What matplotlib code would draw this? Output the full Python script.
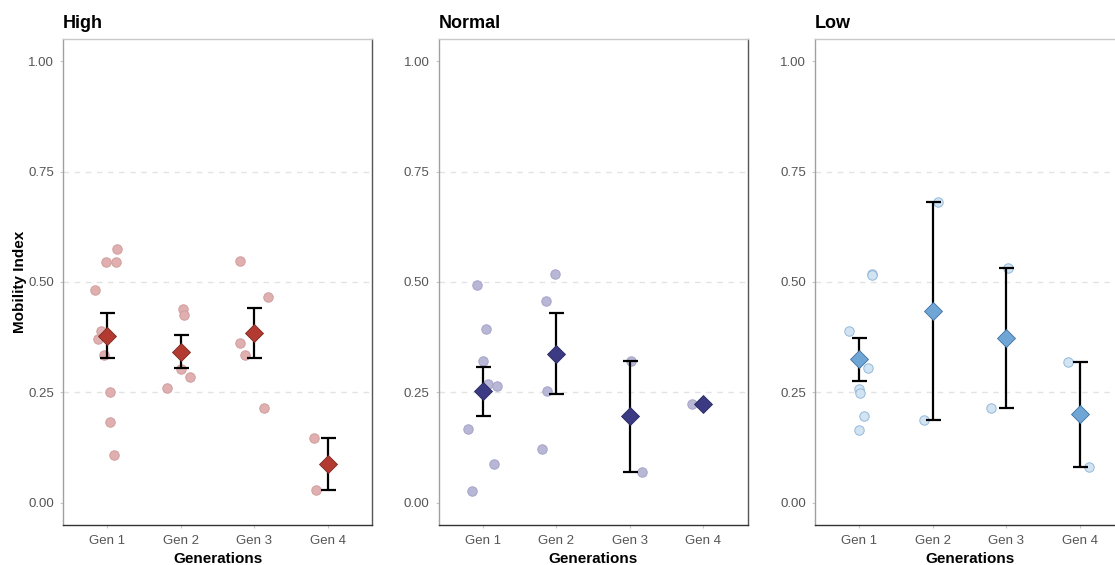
import matplotlib
matplotlib.use("Agg")
import matplotlib.pyplot as plt
import numpy as np

plt.rcParams['font.family'] = ['Liberation Sans', 'DejaVu Sans']

generations = ["Gen 1", "Gen 2", "Gen 3", "Gen 4"]
panels = ["High", "Normal", "Low"]

# Mobility index of each individual
high_vals = [
    [0.575, 0.546, 0.546, 0.482, 0.388, 0.371, 0.335, 0.250, 0.184, 0.108],
    [0.439, 0.425, 0.302, 0.285, 0.259],
    [0.547, 0.467, 0.361, 0.334, 0.214],
    [0.146, 0.029],
]
normal_vals = [
    [0.493, 0.393, 0.321, 0.269, 0.265, 0.167, 0.087, 0.026],
    [0.517, 0.458, 0.253, 0.123],
    [0.322, 0.070],
    [0.225],
]
low_vals = [
    [0.518, 0.515, 0.390, 0.306, 0.257, 0.248, 0.197, 0.166],
    [0.681, 0.187],
    [0.531, 0.214],
    [0.320, 0.081],
]
# horizontal jitter (category units)
high_jit = [
    [0.14, -0.01, 0.115, -0.16, -0.09, -0.12, -0.04, 0.04, 0.04, 0.09],
    [0.035, 0.045, 0.0, 0.12, -0.19],
    [-0.2, 0.18, -0.19, -0.12, 0.13],
    [-0.185, -0.16],
]
normal_jit = [
    [-0.07, 0.05, 0.01, 0.075, 0.195, -0.2, 0.16, -0.14],
    [-0.01, -0.14, -0.125, -0.2],
    [0.015, 0.165],
    [-0.155],
]
low_jit = [
    [0.17, 0.18, -0.135, 0.12, 0.0, 0.01, 0.065, 0.0],
    [0.07, -0.12],
    [0.03, -0.21],
    [-0.155, 0.13],
]

data = [high_vals, normal_vals, low_vals]
jitters = [high_jit, normal_jit, low_jit]

pt_face = ['#e0b0b0', '#b9b7d6', '#d2e3f2']
pt_edge = ['#d09c9c', '#a5a3c8', '#93b9db']
mean_face = ['#b23a30', '#3b3a82', '#6fa6d6']
mean_edge = ['#7a2a22', '#2a2960', '#3f719f']

W, H = 1115, 565
fig = plt.figure(figsize=(W / 100, H / 100), dpi=100)
lefts = [63, 438.5, 815]
aw = 309
top, bottom = 39, 525

for i, name in enumerate(panels):
    ax = fig.add_axes([lefts[i] / W, (H - bottom) / H, aw / W, (bottom - top) / H])
    ax.set_xlim(0.4, 4.6)
    ax.set_ylim(-0.05, 1.05)
    for yv in [0.25, 0.5, 0.75]:
        ax.axhline(yv, color='#e3e3e3', lw=1.0, ls=(0, (4, 4)), zorder=0)
    for g, (vals, jit) in enumerate(zip(data[i], jitters[i])):
        xpos = g + 1
        xs = [xpos + j for j in jit]
        ax.scatter(xs, vals, s=46, facecolor=pt_face[i], edgecolor=pt_edge[i],
                   linewidth=0.7, zorder=2)
        arr = np.array(vals)
        m = arr.mean()
        if len(arr) > 1:
            se = arr.std(ddof=1) / np.sqrt(len(arr))
            ax.errorbar([xpos], [m], yerr=[se], fmt='none', ecolor='black',
                        elinewidth=1.6, capsize=5.4, capthick=1.6, zorder=3)
        ax.plot([xpos], [m], marker='D', ms=8.8, mfc=mean_face[i],
                mec=mean_edge[i], mew=0.6, ls='none', zorder=4)
    ax.set_xticks([1, 2, 3, 4])
    ax.set_xticklabels(generations)
    ax.set_yticks([0, 0.25, 0.5, 0.75, 1.0])
    ax.set_yticklabels(["0.00", "0.25", "0.50", "0.75", "1.00"])
    ax.tick_params(axis='both', labelsize=9.5, labelcolor='#555555',
                   color='#c8c8c8', length=2.5, width=0.8)
    ax.tick_params(axis='x', pad=5)
    ax.tick_params(axis='y', pad=4)
    ax.spines['left'].set_color('#a0a0a0')
    ax.spines['top'].set_color('#c8c8c8')
    ax.spines['right'].set_color('#555555')
    ax.spines['bottom'].set_color('#333333')
    for sp in ax.spines.values():
        sp.set_linewidth(1.0)
    ax.set_title(name, loc='left', fontsize=13, fontweight='bold', pad=8)
    ax.set_xlabel("Generations", fontsize=11, fontweight='bold', labelpad=3)
    if i == 0:
        ax.set_ylabel("Mobility Index", fontsize=11, fontweight='bold', labelpad=1)

fig.savefig("out.png", dpi=100)
